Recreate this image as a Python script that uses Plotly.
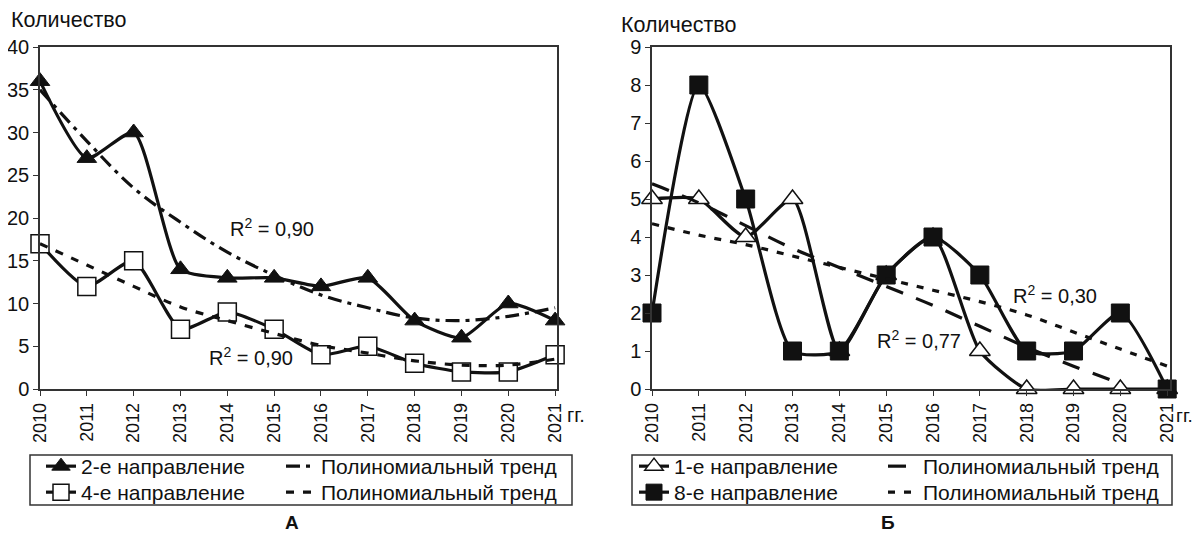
import plotly.graph_objects as go

years = list(range(2010, 2022))

# Chart A
dir2 = [36, 27, 30, 14, 13, 13, 12, 13, 8, 6, 10, 8]
dir4 = [17, 12, 15, 7, 9, 7, 4, 5, 3, 2, 2, 4]
trend2 = [35, 29, 23.5, 19.5, 16, 13.3, 11, 9.5, 8.3, 8, 8.5, 9.5]
trend4 = [17, 14.5, 12, 9.6, 8, 6.5, 5.1, 4.2, 3.3, 2.8, 2.8, 3.5]

# Chart Б
dir1 = [5, 5, 4, 5, 1, 3, 4, 1, 0, 0, 0, 0]
dir8 = [2, 8, 5, 1, 1, 3, 4, 3, 1, 1, 2, 0]
trend1 = [5.4, 4.9, 4.3, 3.7, 3.2, 2.7, 2.2, 1.65, 1.1, 0.6, 0.15]
trend8 = [4.35, 4.05, 3.8, 3.5, 3.2, 2.9, 2.6, 2.3, 1.95, 1.5, 1.05, 0.6]

FONT = "Liberation Sans, Arial, sans-serif"
BLACK = "#111111"
LEG_SIZE = 21
W, H = 1200, 539
OFF = 8  # page body margin


def px(x):
    return (x - OFF) / W


def py(y):
    return 1 - (y - OFF) / H


fig = go.Figure()

# ---- Chart A ----
fig.add_trace(go.Scatter(x=years, y=dir2, mode="lines+markers", name="2-е направление",
                         line=dict(color=BLACK, width=3.2, shape="spline", smoothing=0.6),
                         marker=dict(symbol="triangle-up", size=17, color=BLACK,
                                     line=dict(color=BLACK, width=1)),
                         cliponaxis=False, xaxis="x", yaxis="y", legend="legend"))
fig.add_trace(go.Scatter(x=years, y=trend2, mode="lines", name="Полиномиальный тренд",
                         line=dict(color=BLACK, width=3.2, shape="spline", dash="14px,6px,4px,6px"),
                         xaxis="x", yaxis="y", legend="legend2"))
fig.add_trace(go.Scatter(x=years, y=dir4, mode="lines+markers", name="4-е направление",
                         line=dict(color=BLACK, width=3.2, shape="spline", smoothing=0.6),
                         marker=dict(symbol="square", size=18, color="white",
                                     line=dict(color=BLACK, width=1.5)),
                         cliponaxis=False, xaxis="x", yaxis="y", legend="legend3"))
fig.add_trace(go.Scatter(x=years, y=trend4, mode="lines", name="Полиномиальный тренд",
                         line=dict(color=BLACK, width=3.2, shape="spline", dash="8px,9px"),
                         xaxis="x", yaxis="y", legend="legend4"))

# ---- Chart Б ----
fig.add_trace(go.Scatter(x=years, y=dir1, mode="lines+markers", name="1-е направление",
                         line=dict(color=BLACK, width=3.2, shape="spline", smoothing=0.6),
                         marker=dict(symbol="triangle-up", size=18, color="white",
                                     line=dict(color=BLACK, width=1.5)),
                         cliponaxis=False, xaxis="x2", yaxis="y2", legend="legend5"))
fig.add_trace(go.Scatter(x=years[:len(trend1)], y=trend1, mode="lines", name="Полиномиальный тренд",
                         line=dict(color=BLACK, width=3.2, shape="spline", dash="18px,14px"),
                         xaxis="x2", yaxis="y2", legend="legend6"))
fig.add_trace(go.Scatter(x=years, y=dir8, mode="lines+markers", name="8-е направление",
                         line=dict(color=BLACK, width=3.2, shape="spline", smoothing=0.6),
                         marker=dict(symbol="square", size=18, color=BLACK,
                                     line=dict(color=BLACK, width=1)),
                         cliponaxis=False, xaxis="x2", yaxis="y2", legend="legend7"))
fig.add_trace(go.Scatter(x=years, y=trend8, mode="lines", name="Полиномиальный тренд",
                         line=dict(color=BLACK, width=3.2, shape="spline", dash="7px,9px"),
                         xaxis="x2", yaxis="y2", legend="legend8"))

axis_common = dict(showline=True, linecolor="#333333", linewidth=1.5, mirror=True,
                   ticks="outside", ticklen=5, tickcolor="#333333", showgrid=False,
                   zeroline=False, automargin=False,
                   tickfont=dict(family=FONT, size=20, color=BLACK))

xcommon = dict(axis_common, tickvals=years, ticktext=[str(y) for y in years], tickangle=-90,
               tickfont=dict(family=FONT, size=18, color=BLACK))


def leg(xpx, ypx):
    return dict(x=px(xpx), y=py(ypx), xanchor="left", yanchor="top", orientation="v",
                bgcolor="rgba(0,0,0,0)", borderwidth=0, tracegroupgap=0, itemwidth=30,
                font=dict(family=FONT, size=LEG_SIZE, color=BLACK))


ROW1, ROW2 = 446, 472

fig.update_layout(
    width=W, height=H,
    margin=dict(l=0, r=0, t=0, b=0),
    paper_bgcolor="white", plot_bgcolor="white",
    font=dict(family=FONT, color=BLACK),
    xaxis=dict(xcommon, domain=[px(40), px(557)], range=[2010, 2021.04], anchor="y"),
    yaxis=dict(axis_common, domain=[py(389), py(47)], range=[0, 40], dtick=5, anchor="x"),
    xaxis2=dict(xcommon, domain=[px(652), px(1170)], range=[2010, 2021.06], anchor="y2"),
    yaxis2=dict(axis_common, domain=[py(389), py(47)], range=[0, 9], dtick=1, anchor="x2"),
    legend=leg(41, ROW1),
    legend2=leg(281, ROW1),
    legend3=leg(41, ROW2),
    legend4=leg(281, ROW2),
    legend5=leg(634, ROW1),
    legend6=leg(883, ROW1),
    legend7=leg(634, ROW2),
    legend8=leg(883, ROW2),
    showlegend=True,
    shapes=[
        dict(type="rect", xref="paper", yref="paper", x0=px(30), x1=px(572),
             y0=py(505), y1=py(455), line=dict(color="#333333", width=1.5)),
        dict(type="rect", xref="paper", yref="paper", x0=px(632), x1=px(1172),
             y0=py(505), y1=py(455), line=dict(color="#333333", width=1.5)),
    ],
)

ann_font = dict(family=FONT, size=20, color=BLACK)
annotations = [
    dict(text="Количество", x=px(9), y=py(20), xref="paper", yref="paper",
         xanchor="left", yanchor="middle", showarrow=False,
         font=dict(family=FONT, size=21.5, color=BLACK)),
    dict(text="Количество", x=px(619), y=py(25), xref="paper", yref="paper",
         xanchor="left", yanchor="middle", showarrow=False,
         font=dict(family=FONT, size=21.5, color=BLACK)),
    dict(text="R<sup>2</sup> = 0,90", x=2014.95, y=18.9, xref="x", yref="y",
         showarrow=False, font=ann_font),
    dict(text="R<sup>2</sup> = 0,90", x=2014.5, y=3.8, xref="x", yref="y",
         showarrow=False, font=ann_font),
    dict(text="R<sup>2</sup> = 0,30", x=2018.6, y=2.5, xref="x2", yref="y2",
         showarrow=False, font=ann_font),
    dict(text="R<sup>2</sup> = 0,77", x=2015.7, y=1.3, xref="x2", yref="y2",
         showarrow=False, font=ann_font),
    dict(text="гг.", x=px(565), y=py(415), xref="paper", yref="paper",
         xanchor="left", yanchor="middle", showarrow=False, font=ann_font),
    dict(text="гг.", x=px(1174), y=py(415), xref="paper", yref="paper",
         xanchor="left", yanchor="middle", showarrow=False,
         font=dict(family=FONT, size=19, color=BLACK)),
    dict(text="<b>А</b>", x=px(292), y=py(522), xref="paper", yref="paper",
         xanchor="center", yanchor="middle",
         showarrow=False, font=dict(family=FONT, size=19, color=BLACK)),
    dict(text="<b>Б</b>", x=px(888), y=py(522), xref="paper", yref="paper",
         xanchor="center", yanchor="middle",
         showarrow=False, font=dict(family=FONT, size=19, color=BLACK)),
]
fig.update_layout(annotations=annotations)

fig.write_html("out.html")
